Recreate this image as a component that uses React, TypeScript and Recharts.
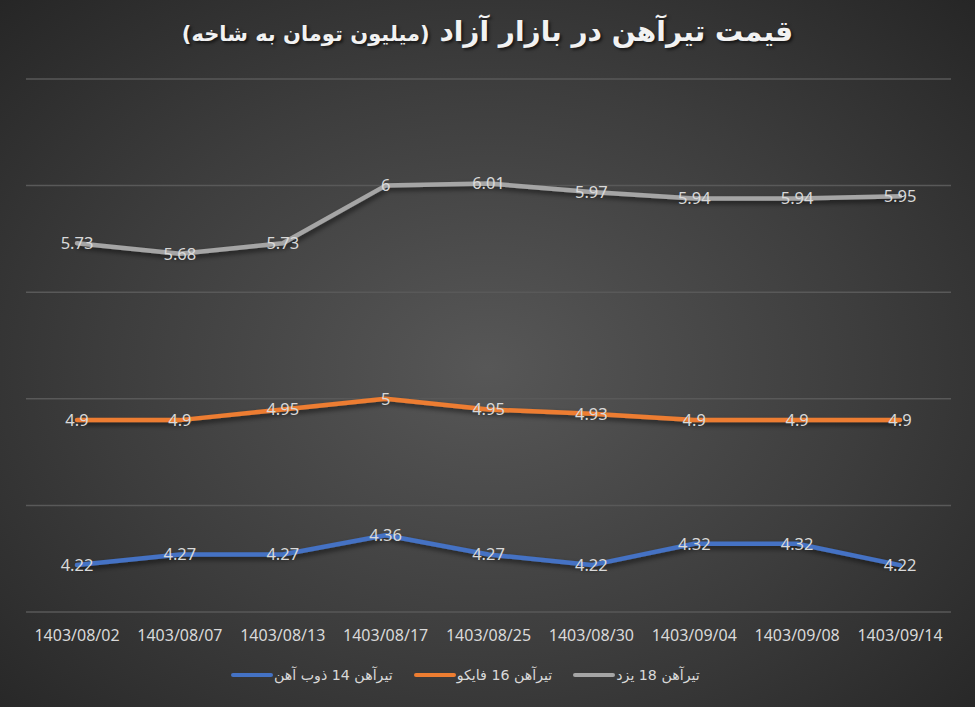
import React from 'react';
import { LineChart, Line, XAxis, YAxis, CartesianGrid, LabelList } from 'recharts';

const dates = [
  '1403/08/02', '1403/08/07', '1403/08/13', '1403/08/17', '1403/08/25',
  '1403/08/30', '1403/09/04', '1403/09/08', '1403/09/14',
];
const zob14 = [4.22, 4.27, 4.27, 4.36, 4.27, 4.22, 4.32, 4.32, 4.22];
const fayko16 = [4.9, 4.9, 4.95, 5, 4.95, 4.93, 4.9, 4.9, 4.9];
const yazd18 = [5.73, 5.68, 5.73, 6, 6.01, 5.97, 5.94, 5.94, 5.95];
const yTicks = [4, 4.5, 5, 5.5, 6, 6.5];

const series = [
  { key: 'zob14', name: 'تیرآهن 14 ذوب آهن', color: '#4472C4' },
  { key: 'fayko16', name: 'تیرآهن 16 فایکو', color: '#ED7D31' },
  { key: 'yazd18', name: 'تیرآهن 18 یزد', color: '#A5A5A5' },
];

const data = dates.map((d, i) => ({
  date: d,
  zob14: zob14[i],
  fayko16: fayko16[i],
  yazd18: yazd18[i],
}));

const W = 975;
const H = 707;
const textColor = '#d9d9d9';

export default function App() {
  return (
    <div
      style={{
        position: 'absolute',
        left: 0,
        top: 0,
        width: W,
        height: H,
        overflow: 'hidden',
        background: 'radial-gradient(ellipse at 50% 52%, #575757 0%, #3d3d3d 55%, #262626 100%)',
      }}
    >
      <div
        dir="rtl"
        style={{
          position: 'absolute',
          top: 15,
          left: 0,
          width: W,
          textAlign: 'center',
          fontFamily: '"DejaVu Sans", sans-serif',
          fontWeight: 'bold',
          fontSize: 28,
          color: '#f2f2f2',
          textShadow: '2px 2px 3px rgba(0,0,0,0.6)',
        }}
      >
        قیمت تیرآهن در بازار آزاد <span style={{ fontSize: 21 }}>(میلیون تومان به شاخه)</span>
      </div>

      <LineChart
        width={W}
        height={H}
        data={data}
        margin={{ top: 79, right: 24, bottom: 35, left: 26 }}
      >
        <defs>
          <filter id="shadow" x="-5%" y="-50%" width="110%" height="200%">
            <feDropShadow dx="2" dy="3" stdDeviation="2.5" floodColor="#000" floodOpacity="0.55" />
          </filter>
        </defs>
        <CartesianGrid vertical={false} stroke="#595959" strokeWidth={1.5} />
        <XAxis
          dataKey="date"
          axisLine={false}
          tickLine={false}
          height={60}
          tickMargin={12}
          interval={0}
          padding={{ left: 51, right: 51 }}
          tick={{ fill: textColor, fontSize: 16, fontFamily: '"Noto Sans", sans-serif' }}
        />
        <YAxis hide domain={[4, 6.5]} ticks={yTicks} />
        {series.map((s) => (
          <Line
            key={s.key}
            dataKey={s.key}
            name={s.name}
            stroke={s.color}
            strokeWidth={4.5}
            strokeLinecap="round"
            strokeLinejoin="round"
            dot={false}
            activeDot={false}
            filter="url(#shadow)"
            isAnimationActive={false}
          >
            <LabelList
              dataKey={s.key}
              position="center"
              fill={textColor}
              fontSize={16.5}
              fontFamily='"Noto Sans", sans-serif'
            />
          </Line>
        ))}
      </LineChart>

      <div
        style={{
          position: 'absolute',
          top: 667,
          left: 231,
          display: 'flex',
          gap: 21,
          fontFamily: '"DejaVu Sans", sans-serif',
          fontSize: 14.2,
          color: textColor,
        }}
      >
        {series.map((s) => (
          <div key={s.key} style={{ display: 'flex', alignItems: 'center' }}>
            <span
              style={{
                display: 'inline-block',
                width: 42,
                height: 4.5,
                borderRadius: 3,
                background: s.color,
              }}
            />
            <span dir="rtl" style={{ marginLeft: 1 }}>{s.name}</span>
          </div>
        ))}
      </div>
    </div>
  );
}
